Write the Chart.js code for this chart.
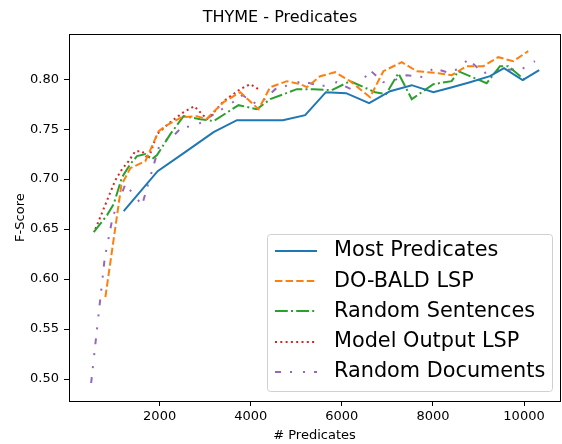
<!DOCTYPE html>
<html>
<head>
<meta charset="utf-8">
<script src="https://cdn.jsdelivr.net/npm/chart.js@4/dist/chart.umd.min.js"></script>
<style>
  html, body { margin: 0; padding: 0; background: #fff; }
  #c { display: block; }
</style>
</head>
<body>
<canvas id="c" width="562" height="444"></canvas>
<script>
// ---- Data ----
const TITLE = 'THYME - Predicates';
const X_LABEL = '# Predicates';
const Y_LABEL = 'F-Score';
const X_TICKS = [2000, 4000, 6000, 8000, 10000];
const Y_TICKS = [0.50, 0.55, 0.60, 0.65, 0.70, 0.75, 0.80];
const SERIES_NAMES = ['Most Predicates', 'DO-BALD LSP', 'Random Sentences', 'Model Output LSP', 'Random Documents'];

const mostPredX = [1211, 1956, 2560, 3184, 3697, 4706, 5195, 5650, 6094, 6599, 7060, 7535, 8010, 8420, 8814, 9253, 9560, 9970, 10334];
const mostPredY = [0.668, 0.708, 0.727, 0.747, 0.759, 0.759, 0.764, 0.787, 0.786, 0.776, 0.788, 0.794, 0.787, 0.792, 0.797, 0.803, 0.811, 0.799, 0.809];

const doBaldX = [809, 1160, 1357, 1686, 1978, 2162, 2491, 2820, 3024, 3403, 3770, 4171, 4428, 4794, 5086, 5233, 5524, 5853, 6182, 6620, 6912, 7316, 7645, 8119, 8412, 8741, 9105, 9434, 9763, 10092];
const doBaldY = [0.582, 0.694, 0.711, 0.718, 0.748, 0.754, 0.762, 0.763, 0.760, 0.777, 0.787, 0.770, 0.792, 0.798, 0.795, 0.792, 0.803, 0.807, 0.798, 0.782, 0.808, 0.817, 0.808, 0.806, 0.804, 0.813, 0.813, 0.822, 0.818, 0.828];

const randSentX = [553, 846, 991, 1175, 1357, 1504, 1686, 1833, 1943, 2235, 2526, 2893, 3184, 3732, 4136, 4428, 5013, 5377, 5781, 6182, 6730, 6971, 7241, 7535, 8009, 8412, 8557, 9180, 9472, 9654, 10020];
const randSentY = [0.647, 0.664, 0.675, 0.702, 0.715, 0.723, 0.725, 0.720, 0.724, 0.745, 0.763, 0.760, 0.758, 0.774, 0.770, 0.780, 0.790, 0.790, 0.789, 0.798, 0.787, 0.785, 0.806, 0.780, 0.795, 0.798, 0.808, 0.796, 0.813, 0.813, 0.799];

const modelOutX = [590, 875, 1029, 1175, 1320, 1467, 1614, 1752, 1943, 2235, 2526, 2760, 3040, 3156, 3403, 3770, 3989, 4171];
const modelOutY = [0.650, 0.682, 0.699, 0.710, 0.718, 0.728, 0.728, 0.720, 0.745, 0.757, 0.767, 0.773, 0.760, 0.765, 0.778, 0.790, 0.795, 0.790];

const randDocX = [496, 794, 969, 1248, 1614, 2015, 2272, 2491, 2783, 3259, 3551, 3814, 4166, 4538, 4829, 5123, 5561, 5890, 6291, 6620, 6912, 7103, 7426, 7790, 8010, 8303, 8550, 8777, 9105, 9362, 9947, 10240];
const randDocY = [0.496, 0.621, 0.662, 0.695, 0.674, 0.737, 0.742, 0.752, 0.753, 0.767, 0.775, 0.784, 0.774, 0.790, 0.794, 0.798, 0.793, 0.797, 0.788, 0.809, 0.797, 0.798, 0.804, 0.802, 0.811, 0.807, 0.810, 0.820, 0.806, 0.809, 0.810, 0.818];

// ---- Build chart ----
const toPts = (xs, ys) => xs.map((x, i) => ({ x: x, y: ys[i] }));
const FONT = 'DejaVu Sans';

const styles = [
  { color: '#1f77b4', dash: [] },
  { color: '#ff7f0e', dash: [7.4, 3.2] },
  { color: '#2ca02c', dash: [12.8, 3.2, 2, 3.2] },
  { color: '#d62728', dash: [2, 3.3] },
  { color: '#9467bd', dash: [6, 9, 2, 11, 2, 9] }
];
const seriesData = [
  toPts(mostPredX, mostPredY),
  toPts(doBaldX, doBaldY),
  toPts(randSentX, randSentY),
  toPts(modelOutX, modelOutY),
  toPts(randDocX, randDocY)
];

const datasets = SERIES_NAMES.map((name, i) => ({
  label: name,
  data: seriesData[i],
  borderColor: styles[i].color,
  backgroundColor: styles[i].color,
  borderDash: styles[i].dash,
  borderWidth: 2,
  borderCapStyle: 'butt',
  pointRadius: 0,
  pointHoverRadius: 0,
  tension: 0,
  fill: false
}));

const framePlugin = {
  id: 'frameAndLegend',
  afterDraw(chart) {
    const ctx = chart.ctx;
    const a = chart.chartArea;
    ctx.save();
    // frame (spines)
    ctx.strokeStyle = '#000';
    ctx.lineWidth = 1;
    ctx.setLineDash([]);
    ctx.strokeRect(Math.round(a.left) + 0.5, Math.round(a.top) + 0.5,
                   Math.round(a.right - a.left), Math.round(a.bottom - a.top));

    // legend box (lower right)
    const bw = 285, bh = 157;
    const bx = Math.round(a.right - 8 - bw) + 0.5;
    const by = Math.round(a.bottom - 10 - bh) + 0.5;
    const r = 3;
    ctx.beginPath();
    ctx.moveTo(bx + r, by);
    ctx.lineTo(bx + bw - r, by);
    ctx.quadraticCurveTo(bx + bw, by, bx + bw, by + r);
    ctx.lineTo(bx + bw, by + bh - r);
    ctx.quadraticCurveTo(bx + bw, by + bh, bx + bw - r, by + bh);
    ctx.lineTo(bx + r, by + bh);
    ctx.quadraticCurveTo(bx, by + bh, bx, by + bh - r);
    ctx.lineTo(bx, by + r);
    ctx.quadraticCurveTo(bx, by, bx + r, by);
    ctx.closePath();
    ctx.fillStyle = 'rgba(255,255,255,0.8)';
    ctx.fill();
    ctx.strokeStyle = '#d0d0d0';
    ctx.lineWidth = 1;
    ctx.stroke();

    ctx.font = '20.8px "' + FONT + '"';
    ctx.textBaseline = 'middle';
    ctx.textAlign = 'left';
    chart.data.datasets.forEach((ds, i) => {
      const y = by + 16.5 + i * 30.2;
      ctx.beginPath();
      ctx.setLineDash(ds.borderDash || []);
      ctx.lineDashOffset = 0;
      ctx.strokeStyle = ds.borderColor;
      ctx.lineWidth = 2;
      ctx.lineCap = 'butt';
      ctx.moveTo(bx + 7.5, Math.round(y));
      ctx.lineTo(bx + 49.5, Math.round(y));
      ctx.stroke();
      ctx.setLineDash([]);
      ctx.fillStyle = '#000';
      ctx.fillText(ds.label, bx + 66.5, y);
    });
    ctx.restore();
  }
};

new Chart(document.getElementById('c'), {
  type: 'line',
  data: { datasets: datasets },
  options: {
    responsive: false,
    animation: false,
    events: [],
    layout: { padding: { left: 0, right: 2, top: 0, bottom: 0 } },
    plugins: {
      legend: { display: false },
      tooltip: { enabled: false },
      title: {
        display: true,
        text: TITLE,
        color: '#000',
        font: { family: FONT, size: 16, weight: 'normal' },
        padding: { top: 8, bottom: 7 }
      }
    },
    scales: {
      x: {
        type: 'linear',
        min: 10,
        max: 10790,
        afterBuildTicks: s => { s.ticks = X_TICKS.map(v => ({ value: v })); },
        afterFit: s => { s.height = 43; },
        ticks: {
          color: '#000',
          font: { family: FONT, size: 13 },
          padding: 3,
          maxRotation: 0,
          autoSkip: false,
          callback: v => String(v)
        },
        grid: { drawOnChartArea: false, drawTicks: true, tickLength: 5, color: '#000', lineWidth: 1 },
        border: { display: false },
        title: {
          display: true,
          text: X_LABEL,
          color: '#000',
          font: { family: FONT, size: 13 },
          padding: { top: 0, bottom: 1 }
        }
      },
      y: {
        type: 'linear',
        min: 0.478,
        max: 0.845,
        afterBuildTicks: s => { s.ticks = Y_TICKS.map(v => ({ value: v })); },
        afterFit: s => { s.width = 69; },
        ticks: {
          color: '#000',
          font: { family: FONT, size: 13 },
          padding: 5,
          autoSkip: false,
          callback: v => Number(v).toFixed(2)
        },
        grid: { drawOnChartArea: false, drawTicks: true, tickLength: 5, color: '#000', lineWidth: 1 },
        border: { display: false },
        title: {
          display: true,
          text: Y_LABEL,
          color: '#000',
          font: { family: FONT, size: 13 },
          padding: { top: 13, bottom: 0 }
        }
      }
    }
  },
  plugins: [framePlugin]
});
</script>
</body>
</html>
